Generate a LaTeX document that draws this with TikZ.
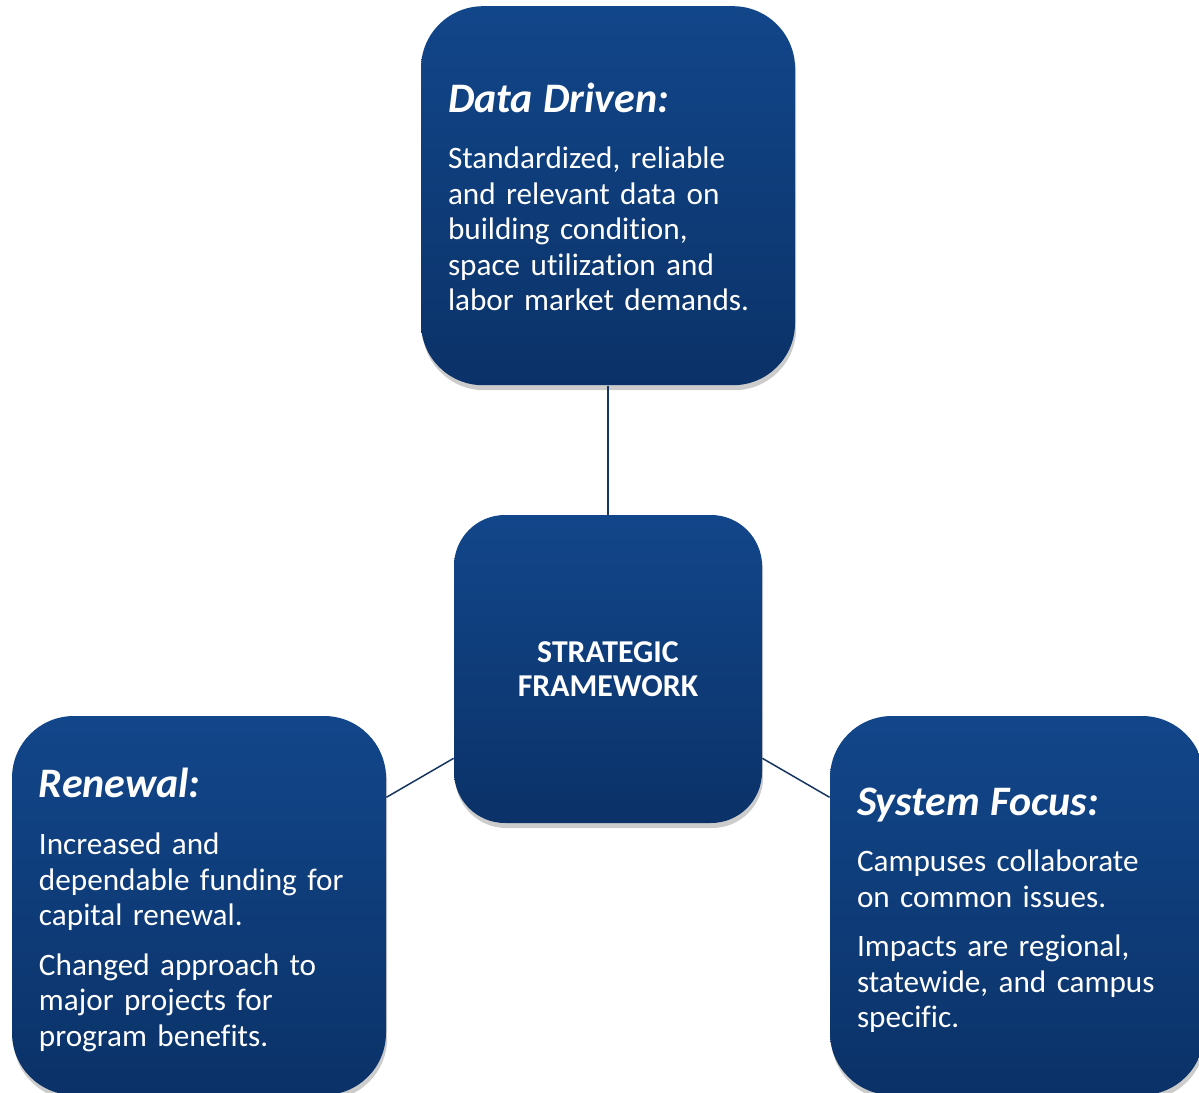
\documentclass[tikz,border=0pt]{standalone}
\usepackage{fontspec}
\setmainfont{Carlito}[Ligatures=NoCommon]
\usetikzlibrary{positioning,shadows}
\definecolor{navytop}{RGB}{18,70,138}
\definecolor{navybot}{RGB}{11,50,104}
\definecolor{navyline}{RGB}{22,54,96}
\tikzstyle{pillar}=[%
      rectangle, rounded corners=31pt, top color=navytop, bottom color=navybot, draw=none,
      drop shadow={shadow xshift=0.6pt, shadow yshift=-2.5pt, opacity=0.2, fill=black},
      text=white, align=left, text width=160pt, inner xsep=13.5pt, inner ysep=0pt,
      minimum width=187pt, minimum height=189.5pt, font=\fontsize{15.6}{17.75}\selectfont
]
\tikzstyle{hub}=[%
      rectangle, rounded corners=25.5pt, top color=navytop, bottom color=navybot, draw=none,
      drop shadow={shadow xshift=0.6pt, shadow yshift=-2.5pt, opacity=0.2, fill=black},
      text=white, align=center, inner sep=0pt, minimum size=154pt,
      font=\bfseries\fontsize{15.9}{17}\selectfont
]
\tikzstyle{link}=[draw=navyline, line width=0.75pt]
% heading line of a pillar box, with a strut to sit it a little lower
\newcommand{\pillarhead}[2][19pt]{{\fontsize{21}{24}\selectfont\bfseries\itshape\rule{0pt}{#1}#2}}

\begin{document}
\begin{tikzpicture}[x=0.5pt, y=-0.5pt]
    \clip (0,0) rectangle (1199,1092);
    \fill[white] (0,0) rectangle (1199,1092);

    \node[hub] (frame) at (608,669) {STRATEGIC\\FRAMEWORK};
    \node[pillar] (data) [above=64.5pt of frame] {\pillarhead[16pt]{Data Driven:}\\[10.25pt]
      Standardized, reliable\\
      and relevant data on\\
      building condition,\\
      space utilization and\\
      labor market demands.};
    \node[pillar] (renewal) at (199,905.5) {\pillarhead{Renewal:}\\[11pt]
      Increased and\\
      dependable funding for\\
      capital renewal.\\[7pt]
      Changed approach to\\
      major projects for\\
      program benefits.};
    \node[pillar] (system) at (1017,905.5) {\pillarhead{System Focus:}\\[10.25pt]
      Campuses collaborate\\
      on common issues.\\[7pt]
      Impacts are regional,\\
      statewide, and campus\\
      specific.};

    \draw[link] (data) -- (frame);
    \draw[link] (frame) -- (renewal);
    \draw[link] (frame) -- (system);

\end{tikzpicture}
\end{document}
